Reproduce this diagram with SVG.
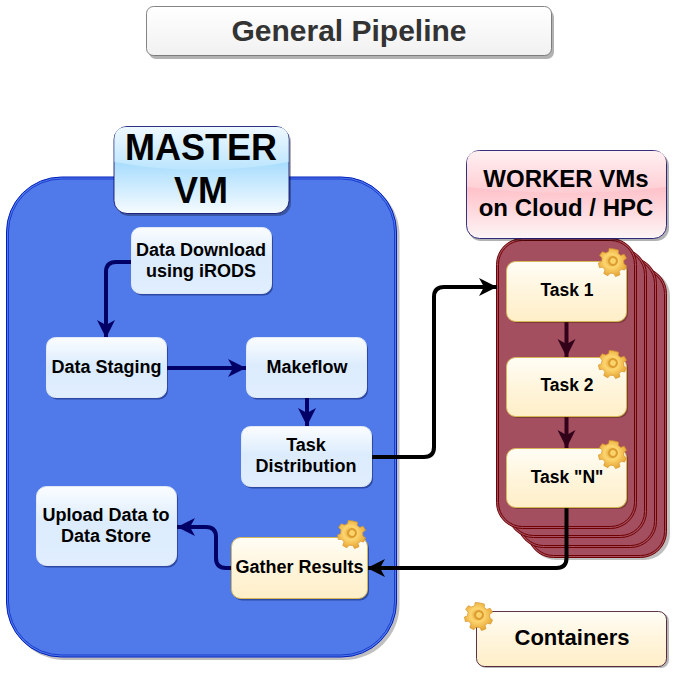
<svg xmlns="http://www.w3.org/2000/svg" xmlns:xlink="http://www.w3.org/1999/xlink" width="675" height="676" viewBox="0 0 675 676">
<style>
text{font-family:"Liberation Sans",Arial,sans-serif;font-weight:bold;text-anchor:middle;fill:#000}
.b{font-size:18px}
.t{font-size:17.500px}
.shadow{fill:#001050;opacity:.45}
.shy{fill:#402000;opacity:.4}
.blue{fill:url(#gBlue);stroke:#dfe8f4;stroke-width:1}
.yel{fill:url(#gYel);stroke:#d6b656;stroke-width:1}
.c{fill:none;stroke-width:4;stroke-linejoin:round}
.w{fill:#a44f60;stroke:#6f0000;stroke-width:1}
.wi{fill:none;stroke:#6f0000;stroke-width:1}
</style>
<defs>
<linearGradient id="gBlue" x1="0" y1="0" x2="0" y2="1"><stop offset="0" stop-color="#fbfdff"/><stop offset=".46" stop-color="#dcecfd"/><stop offset="1" stop-color="#e0eefe"/></linearGradient>
<linearGradient id="gMaster" x1="0" y1="0" x2="0" y2="1"><stop offset="0" stop-color="#a6dcfd"/><stop offset=".4" stop-color="#a6dcfd"/><stop offset="1" stop-color="#f6fbff"/></linearGradient>
<linearGradient id="gMasterTop" x1="0" y1="0" x2="0" y2="1"><stop offset="0" stop-color="#eef8ff"/><stop offset="1" stop-color="#bbe5fe"/></linearGradient>
<linearGradient id="gWorker" x1="0" y1="0" x2="0" y2="1"><stop offset="0" stop-color="#ffbfc7"/><stop offset=".4" stop-color="#ffbfc7"/><stop offset="1" stop-color="#fdf5f6"/></linearGradient>
<linearGradient id="gWorkerTop" x1="0" y1="0" x2="0" y2="1"><stop offset="0" stop-color="#fff0f2"/><stop offset="1" stop-color="#ffccd2"/></linearGradient>
<linearGradient id="gYel" x1="0" y1="0" x2="0" y2="1"><stop offset="0" stop-color="#fffdf6"/><stop offset=".5" stop-color="#fff5dc"/><stop offset="1" stop-color="#ffefc8"/></linearGradient>
<linearGradient id="gTitle" x1="0" y1="0" x2="0" y2="1"><stop offset="0" stop-color="#fff"/><stop offset="1" stop-color="#f1f1f1"/></linearGradient>
<radialGradient id="gGear" cx=".45" cy=".45" r=".6"><stop offset="0" stop-color="#d99a2b"/><stop offset=".4" stop-color="#fdd56f"/><stop offset="1" stop-color="#e3a02c"/></radialGradient>
<marker id="mB" markerUnits="userSpaceOnUse" markerWidth="22" markerHeight="22" refX="18" refY="9" orient="auto" overflow="visible"><path d="M0 0L18 9L0 18L5 9Z" fill="#000066"/></marker>
<marker id="mK" markerUnits="userSpaceOnUse" markerWidth="22" markerHeight="22" refX="18" refY="9" orient="auto" overflow="visible"><path d="M0 0L18 9L0 18L5 9Z" fill="#000"/></marker>
<marker id="mD" markerUnits="userSpaceOnUse" markerWidth="22" markerHeight="22" refX="18" refY="9" orient="auto" overflow="visible"><path d="M0 0L18 9L0 18L5 9Z" fill="#33001a"/></marker>
<g id="gear"><path d="M-3-14.500L3-14.500L3.800-10.500L7.500-9L11-11.500L15-7.500L12.300-4L13.800 0L17.500 1.500L16.500 7L12.500 7L10.500 10.500L12.500 14L8 17.500L4.800 14.500L0.500 15.200L-1.500 19L-7 17.500L-6.500 13L-10 10.500L-14 12L-16.500 7L-13.300 4.500L-13.800 0L-17.500-2.500L-15.500-7.500L-11-7L-8-10L-8.500-13.500Z" fill="url(#gGear)" stroke="#d8952a" stroke-width=".8"/><circle r="6" fill="#dd9c30"/><circle r="3.500" fill="#fbd36b"/></g>
</defs>
<rect width="675" height="676" fill="#fff"/>

<g id="title"><rect x="149" y="10" width="405" height="49" rx="7" fill="#000" opacity=".3"/><rect x="146.500" y="6.500" width="405" height="49" rx="7" fill="url(#gTitle)" stroke="#666" stroke-width=".8"/><text x="349" y="41" style="font-size:30px;fill:#333">General Pipeline</text></g>

<g id="master-vm">
<rect x="9.500" y="180" width="390" height="480" rx="55" fill="#000" opacity=".25"/>
<rect x="6.500" y="177" width="390" height="480" rx="55" fill="#507ae9" stroke="#001dbc" stroke-width="1"/>
<rect x="8.500" y="179" width="386" height="476" rx="53" fill="none" stroke="#1a3bd0" stroke-width="1"/>
</g>

<g id="worker-stack">
<g id="worker-4"><rect x="530" y="270" width="140" height="290" rx="26" fill="#000" opacity=".25"/><rect class="w" x="527.500" y="267.500" width="139" height="290" rx="26"/><rect class="wi" x="529.500" y="269.500" width="135" height="286" rx="24"/></g>
<g id="worker-3"><rect class="w" x="517.500" y="257.500" width="139" height="290" rx="26"/><rect class="wi" x="519.500" y="259.500" width="135" height="286" rx="24"/></g>
<g id="worker-2"><rect class="w" x="507.500" y="248.500" width="139" height="289" rx="26"/><rect class="wi" x="509.500" y="250.500" width="135" height="285" rx="24"/></g>
<g id="worker-1"><rect class="w" x="496.500" y="238.500" width="140" height="290" rx="26"/><rect class="wi" x="498.500" y="240.500" width="136" height="286" rx="24"/></g>
</g>

<g id="connectors">
<path class="c" stroke="#000066" d="M133 262H116Q106 262 106 272V338" marker-end="url(#mB)"/>
<path class="c" stroke="#000066" d="M167 368H246" marker-end="url(#mB)"/>
<path class="c" stroke="#000066" d="M307 398V426" marker-end="url(#mB)"/>
<path class="c" stroke="#000" d="M371 457H424Q434 457 434 447V297Q434 287 444 287H497" marker-end="url(#mK)"/>
<path class="c" stroke="#33001a" d="M566.500 322V357" marker-end="url(#mD)"/>
<path class="c" stroke="#33001a" d="M566.500 417V448" marker-end="url(#mD)"/>
<path class="c" stroke="#000" d="M566.500 508V558Q566.500 568 556.500 568H367" marker-end="url(#mK)"/>
<path class="c" stroke="#000066" d="M232 568H226Q216 568 216 558V537Q216 527 206 527H177" marker-end="url(#mB)"/>
</g>

<g id="master-label"><rect x="116" y="129" width="175" height="87" rx="13" fill="#000" opacity=".3"/><rect x="114" y="126.500" width="175" height="87" rx="13" fill="url(#gMaster)" stroke="#000066" stroke-width=".8"/><path d="M114.500 162V139.500Q114.500 127 127 127H276Q288.500 127 288.500 139.500V162Q201 178 114.500 162Z" fill="url(#gMasterTop)"/><text x="201" y="160" style="font-size:36px">MASTER</text><text x="201" y="203" style="font-size:36px">VM</text></g>

<g id="worker-label"><rect x="468" y="153" width="201" height="88" rx="13" fill="#000" opacity=".3"/><rect x="466.500" y="150.500" width="200" height="88" rx="13" fill="url(#gWorker)" stroke="#000066" stroke-width=".8"/><path d="M467 187V163.500Q467 151 479.500 151H653.500Q666 151 666 163.500V187Q566 199 467 187Z" fill="url(#gWorkerTop)"/><text x="566" y="187" style="font-size:24px">WORKER VMs</text><text x="566" y="216" style="font-size:24px">on Cloud / HPC</text></g>

<g id="data-download"><rect class="shadow" x="133" y="229.500" width="140" height="66" rx="9"/><rect class="blue" x="131.500" y="227.500" width="140" height="66" rx="9"/><text class="b" x="201" y="256">Data Download</text><text class="b" x="201" y="277">using iRODS</text></g>
<g id="data-staging"><rect class="shadow" x="48" y="339.500" width="120" height="60" rx="9"/><rect class="blue" x="46.500" y="337.500" width="120" height="60" rx="9"/><text class="b" x="106.500" y="373">Data Staging</text></g>
<g id="makeflow"><rect class="shadow" x="248" y="339.500" width="120" height="60" rx="9"/><rect class="blue" x="246.500" y="337.500" width="120" height="60" rx="9"/><text class="b" x="307" y="373">Makeflow</text></g>
<g id="task-distribution"><rect class="shadow" x="243" y="428.500" width="130" height="60" rx="9"/><rect class="blue" x="241.500" y="426.500" width="130" height="60" rx="9"/><text class="b" x="306" y="451">Task</text><text class="b" x="306" y="472">Distribution</text></g>
<g id="upload"><rect class="shadow" x="38" y="488.500" width="140" height="79" rx="10"/><rect class="blue" x="36.500" y="486.500" width="140" height="79" rx="10"/><text class="b" x="106" y="521">Upload Data to</text><text class="b" x="106" y="542">Data Store</text></g>
<g id="gather-results"><rect class="shadow" x="233" y="539.500" width="136" height="61" rx="9"/><rect class="yel" x="231.500" y="537.500" width="136" height="61" rx="9"/><text class="b" x="299.500" y="573">Gather Results</text><use href="#gear" transform="translate(352 533) rotate(15) scale(.82)"/></g>
<g id="task-1"><rect class="shy" x="508" y="263" width="120" height="60" rx="9"/><rect class="yel" x="506.500" y="261.500" width="120" height="60" rx="9"/><text class="t" x="567" y="296">Task 1</text><use href="#gear" transform="translate(613 261) rotate(15) scale(.82)"/></g>
<g id="task-2"><rect class="shy" x="508" y="359" width="120" height="59" rx="9"/><rect class="yel" x="506.500" y="357.500" width="120" height="59" rx="9"/><text class="t" x="567" y="391">Task 2</text><use href="#gear" transform="translate(613 363) rotate(15) scale(.82)"/></g>
<g id="task-n"><rect class="shy" x="508" y="450" width="120" height="59" rx="9"/><rect class="yel" x="506.500" y="448.500" width="120" height="59" rx="9"/><text class="t" x="567" y="483">Task "N"</text><use href="#gear" transform="translate(613 453) rotate(15) scale(.82)"/></g>
<g id="containers"><rect x="478" y="613" width="191" height="55" rx="8" fill="#000" opacity=".28"/><rect x="476.500" y="611.500" width="190" height="55" rx="8" fill="url(#gYel)" stroke="#33001a" stroke-width=".8"/><text x="572" y="645" style="font-size:22px">Containers</text><use href="#gear" transform="translate(479 615) rotate(15) scale(.82)"/></g>
</svg>
